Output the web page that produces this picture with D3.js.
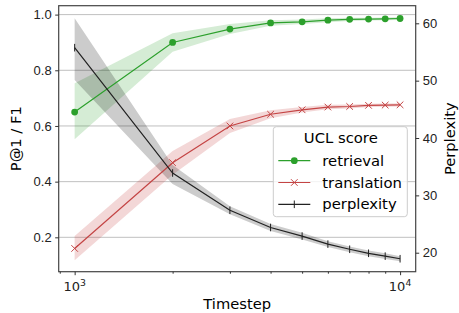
<!DOCTYPE html>
<html>
<head>
<meta charset="utf-8">
<script src="https://cdn.jsdelivr.net/npm/d3@7"></script>
<style>
  body { margin: 0; background: #fff; }
  svg { font-family: "DejaVu Sans", sans-serif; }
  .tick text { font-size: 13px; fill: #222; }
  .axis path { display: none; }
  .axis line { stroke: #333; }
</style>
</head>
<body>
<svg width="459" height="313"></svg>
<script>
var steps = [1000, 2000, 3000, 4000, 5000, 6000, 7000, 8000, 9000, 10000];

var retrieval   = [0.65, 0.90, 0.948, 0.970, 0.974, 0.980, 0.983, 0.984, 0.985, 0.986];
var retrievalLo = [0.552, 0.867, 0.930, 0.960, 0.966, 0.973, 0.977, 0.979, 0.980, 0.981];
var retrievalHi = [0.753, 0.933, 0.966, 0.980, 0.982, 0.987, 0.989, 0.989, 0.990, 0.991];

var translation   = [0.160, 0.468, 0.600, 0.642, 0.658, 0.668, 0.670, 0.674, 0.675, 0.676];
var translationLo = [0.118, 0.425, 0.575, 0.628, 0.648, 0.660, 0.663, 0.668, 0.669, 0.670];
var translationHi = [0.205, 0.510, 0.625, 0.656, 0.668, 0.676, 0.677, 0.680, 0.681, 0.682];

var perplexity   = [55.75, 33.9, 27.4, 24.4, 22.9, 21.5, 20.6, 19.9, 19.4, 18.95];
var perplexityLo = [50.1, 32.0, 26.7, 23.8, 22.3, 21.0, 20.1, 19.4, 18.9, 18.5];
var perplexityHi = [60.9, 35.3, 28.1, 25.0, 23.5, 22.0, 21.1, 20.4, 19.9, 19.4];

var leftTicks = [0.2, 0.4, 0.6, 0.8, 1.0];
var rightTicks = [20, 30, 40, 50, 60];
var majorX = [1000, 10000];
var minorX = [900, 2000, 3000, 4000, 5000, 6000, 7000, 8000, 9000];

var margin = {top: 5.7, right: 43.3, bottom: 41.3, left: 58.7},
    width = 459 - margin.left - margin.right,
    height = 313 - margin.top - margin.bottom;

var x = d3.scaleLog().domain([Math.pow(10, 2.951), Math.pow(10, 4.048)]).range([0, width]);
var y = d3.scaleLinear().domain([0.0765, 1.032]).range([height, 0]);
var y2 = d3.scaleLinear().domain([16.69, 63.07]).range([height, 0]);

var svg = d3.select("svg");
var g = svg.append("g")
    .attr("transform", "translate(" + margin.left + "," + margin.top + ")");

// grid on left axis
g.append("g")
    .selectAll("line")
    .data(leftTicks)
  .enter().append("line")
    .attr("x1", 0).attr("x2", width)
    .attr("y1", y).attr("y2", y)
    .attr("stroke", "#b0b0b0")
    .attr("stroke-width", 0.8);

function band(lo, hi, yScale) {
    return d3.area()
        .x(function(d, i) { return x(steps[i]); })
        .y0(function(d, i) { return yScale(lo[i]); })
        .y1(function(d, i) { return yScale(hi[i]); })(steps);
}
function line(vals, yScale) {
    return d3.line()
        .x(function(d, i) { return x(steps[i]); })
        .y(function(d) { return yScale(d); })(vals);
}

var series = [
    {name: "retrieval", v: retrieval, lo: retrievalLo, hi: retrievalHi, s: y, color: "#2ca02c", marker: "dot"},
    {name: "translation", v: translation, lo: translationLo, hi: translationHi, s: y, color: "#c44444", marker: "x"},
    {name: "perplexity", v: perplexity, lo: perplexityLo, hi: perplexityHi, s: y2, color: "#222", marker: "plus"}
];
var bandColors = {retrieval: "#2ca02c", translation: "#c43535", perplexity: "#000"};

series.forEach(function(sr) {
    g.append("path")
        .attr("d", band(sr.lo, sr.hi, sr.s))
        .attr("fill", bandColors[sr.name])
        .attr("fill-opacity", 0.2);
});

function drawMarker(sel, type, color, cx, cy) {
    if (type === "dot") {
        sel.append("circle").attr("cx", cx).attr("cy", cy).attr("r", 3.4).attr("fill", color);
    } else if (type === "x") {
        sel.append("path")
            .attr("d", "M" + (cx - 3.3) + "," + (cy - 3.3) + "L" + (cx + 3.3) + "," + (cy + 3.3) +
                       "M" + (cx - 3.3) + "," + (cy + 3.3) + "L" + (cx + 3.3) + "," + (cy - 3.3))
            .attr("stroke", color).attr("stroke-width", 1);
    } else {
        sel.append("path")
            .attr("d", "M" + cx + "," + (cy - 3.8) + "L" + cx + "," + (cy + 3.8))
            .attr("stroke", color).attr("stroke-width", 1);
    }
}

series.forEach(function(sr) {
    g.append("path")
        .attr("d", line(sr.v, sr.s))
        .attr("fill", "none")
        .attr("stroke", sr.color)
        .attr("stroke-width", 1.2);
    var mg = g.append("g");
    sr.v.forEach(function(d, i) {
        drawMarker(mg, sr.marker, sr.color, x(steps[i]), sr.s(d));
    });
});

// spines
g.append("rect")
    .attr("width", width).attr("height", height)
    .attr("fill", "none").attr("stroke", "#444").attr("stroke-width", 1.2);

// axes
g.append("g")
    .attr("class", "axis")
    .call(d3.axisLeft(y).tickValues(leftTicks).tickFormat(d3.format(".1f")).tickSize(3.5).tickPadding(3.5));

g.append("g")
    .attr("class", "axis")
    .attr("transform", "translate(" + width + ",0)")
    .call(d3.axisRight(y2).tickValues(rightTicks).tickSize(3.5).tickPadding(3.5));

var xAxis = g.append("g")
    .attr("class", "axis")
    .attr("transform", "translate(0," + height + ")")
    .call(d3.axisBottom(x).tickValues(majorX).tickFormat("").tickSize(3.5));
xAxis.append("g")
    .call(d3.axisBottom(x).tickValues(minorX).tickFormat("").tickSize(2))
    .select(".domain").remove();
xAxis.selectAll(".tick line").attr("stroke", "#333");

// x tick labels as 10^n
majorX.forEach(function(v) {
    var t = g.append("text")
        .attr("x", x(v))
        .attr("y", height + 19)
        .attr("text-anchor", "middle")
        .attr("font-size", "13px")
        .attr("fill", "#222");
    t.append("tspan").text("10");
    t.append("tspan").attr("dy", -5).attr("font-size", "9.3px").text(Math.round(Math.log10(v)));
});

// axis labels
svg.append("text")
    .attr("x", margin.left + width / 2)
    .attr("y", 308.5)
    .attr("text-anchor", "middle")
    .attr("font-size", "14.7px")
    .text("Timestep");

svg.append("text")
    .attr("transform", "translate(21," + (margin.top + height / 2) + ") rotate(-90)")
    .attr("text-anchor", "middle")
    .attr("font-size", "14.7px")
    .text("P@1 / F1");

svg.append("text")
    .attr("transform", "translate(455," + (margin.top + height / 2) + ") rotate(-90)")
    .attr("text-anchor", "middle")
    .attr("font-size", "14.7px")
    .text("Perplexity");

// legend
var lg = svg.append("g").attr("transform", "translate(273.3,126.7)");
lg.append("rect")
    .attr("width", 134).attr("height", 90)
    .attr("rx", 3)
    .attr("fill", "#fff").attr("fill-opacity", 0.8)
    .attr("stroke", "#ccc").attr("stroke-width", 1);
lg.append("text")
    .attr("x", 67.5).attr("y", 16.5)
    .attr("text-anchor", "middle")
    .attr("font-size", "14.8px")
    .text("UCL score");
series.forEach(function(sr, i) {
    var cy = 34 + i * 21.8;
    lg.append("line")
        .attr("x1", 5).attr("x2", 37)
        .attr("y1", cy).attr("y2", cy)
        .attr("stroke", sr.color).attr("stroke-width", 1.2);
    drawMarker(lg, sr.marker, sr.color, 21, cy);
    lg.append("text")
        .attr("x", 49).attr("y", cy + 5.2)
        .attr("font-size", "14.8px")
        .text(sr.name);
});
</script>
</body>
</html>
